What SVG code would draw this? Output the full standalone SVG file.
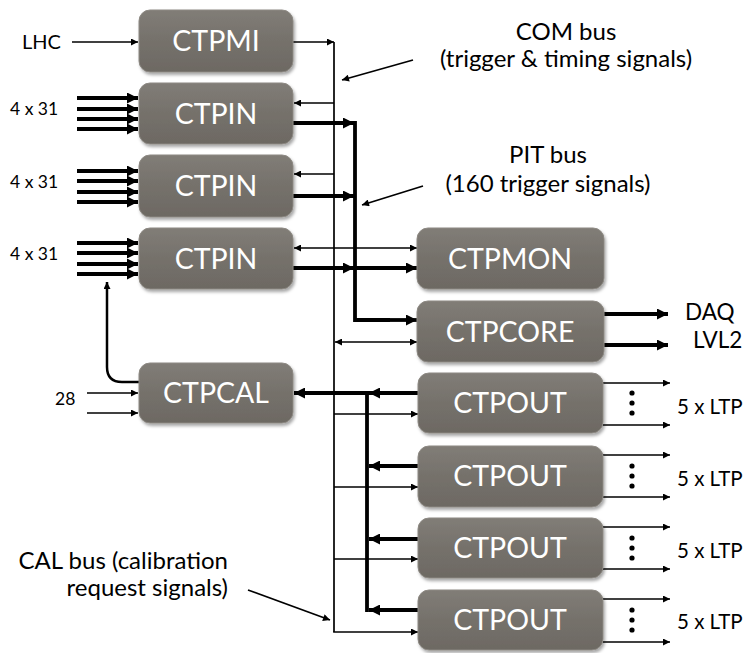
<svg xmlns="http://www.w3.org/2000/svg" width="749" height="653" viewBox="0 0 749 653">
<defs>
<linearGradient id="g" x1="0" y1="0" x2="0" y2="1">
<stop offset="0" stop-color="#817d77"/>
<stop offset="0.5" stop-color="#75716b"/>
<stop offset="1" stop-color="#6d6963"/>
</linearGradient>
<filter id="sh" x="-10%" y="-10%" width="125%" height="135%">
<feDropShadow dx="1.5" dy="2.5" stdDeviation="1.5" flood-color="#000" flood-opacity="0.35"/>
</filter>
<marker id="at" viewBox="0 0 10 10" refX="10" refY="5" markerWidth="10" markerHeight="7" markerUnits="userSpaceOnUse" orient="auto-start-reverse">
<path d="M0,0 L10,5 L0,10 z" fill="#000"/>
</marker>
<marker id="ak" viewBox="0 0 10 10" refX="10" refY="5" markerWidth="13" markerHeight="11" markerUnits="userSpaceOnUse" orient="auto-start-reverse">
<path d="M0,0 L10,5 L0,10 z" fill="#000"/>
</marker>
</defs>
<style>
.box{fill:url(#g);stroke:#8d8983;stroke-width:1;filter:url(#sh)}
.nl{font-family:Lato,"Liberation Sans",sans-serif;font-size:28.5px;fill:#fff;text-anchor:middle}
.lb{font-family:Lato,"Liberation Sans",sans-serif;font-size:24px;fill:#000}
.sm{font-family:Lato,"Liberation Sans",sans-serif;font-size:17.5px;fill:#000}
.t{fill:none;stroke:#000;stroke-width:1.7}
.k{fill:none;stroke:#000;stroke-width:3.8}
.ta{marker-end:url(#at)}
.ka{marker-end:url(#ak)}
.tb{marker-start:url(#at);marker-end:url(#at)}
</style>

<g id="connectors">
<line class="t ta" x1="72" y1="42" x2="138" y2="42"/>
<line class="t ta" x1="293" y1="42" x2="334" y2="42"/>
<line class="t" x1="334" y1="42" x2="334" y2="632"/>
<polyline class="k" points="355,121 355,320 390,320"/>
<line class="k ka" x1="388" y1="320" x2="417" y2="320"/>
<line class="k" x1="367" y1="393" x2="367" y2="612"/>

<line class="k ka" x1="77" y1="98" x2="138" y2="98"/>
<line class="k ka" x1="77" y1="109" x2="138" y2="109"/>
<line class="k ka" x1="77" y1="119" x2="138" y2="119"/>
<line class="k ka" x1="77" y1="129" x2="138" y2="129"/>
<line class="t ta" x1="334" y1="103" x2="294" y2="103"/>
<line class="k ka" x1="293" y1="123" x2="354" y2="123"/>

<line class="k ka" x1="77" y1="171" x2="138" y2="171"/>
<line class="k ka" x1="77" y1="181" x2="138" y2="181"/>
<line class="k ka" x1="77" y1="192" x2="138" y2="192"/>
<line class="k ka" x1="77" y1="202" x2="138" y2="202"/>
<line class="t ta" x1="334" y1="174" x2="294" y2="174"/>
<line class="k ka" x1="293" y1="196" x2="354" y2="196"/>

<line class="k ka" x1="77" y1="243" x2="138" y2="243"/>
<line class="k ka" x1="77" y1="253" x2="138" y2="253"/>
<line class="k ka" x1="77" y1="264" x2="138" y2="264"/>
<line class="k ka" x1="77" y1="274" x2="138" y2="274"/>
<line class="t tb" x1="294" y1="248" x2="417" y2="248"/>
<line class="k ka" x1="293" y1="268" x2="354" y2="268"/>
<line class="k ka" x1="355" y1="268" x2="417" y2="268"/>

<line class="t tb" x1="335" y1="342" x2="417" y2="342"/>
<line class="k ka" x1="604" y1="314" x2="668" y2="314"/>
<line class="k ka" x1="604" y1="345" x2="668" y2="345"/>

<path class="t ta" style="stroke-width:2.5" d="M139,382 L122,382 Q107,382 107,367 L107,282"/>
<line class="t ta" x1="87" y1="393" x2="138" y2="393"/>
<line class="t ta" x1="87" y1="413" x2="138" y2="413"/>

<line class="k ka" x1="380" y1="393" x2="294" y2="393"/>
<line class="k ka" x1="418" y1="393" x2="369" y2="393"/>
<line class="k ka" x1="418" y1="466" x2="369" y2="466"/>
<line class="k ka" x1="418" y1="539" x2="369" y2="539"/>
<line class="k ka" x1="418" y1="610" x2="369" y2="610"/>

<line class="t ta" x1="334" y1="414" x2="418" y2="414"/>
<line class="t ta" x1="334" y1="487" x2="418" y2="487"/>
<line class="t ta" x1="334" y1="559" x2="418" y2="559"/>
<line class="t ta" x1="333.15" y1="632" x2="418" y2="632"/>

<line class="t ta" x1="603" y1="383" x2="670" y2="383"/>
<line class="t ta" x1="603" y1="425" x2="670" y2="425"/>
<line class="t ta" x1="603" y1="455" x2="670" y2="455"/>
<line class="t ta" x1="603" y1="497" x2="670" y2="497"/>
<line class="t ta" x1="603" y1="527" x2="670" y2="527"/>
<line class="t ta" x1="603" y1="569" x2="670" y2="569"/>
<line class="t ta" x1="603" y1="599" x2="670" y2="599"/>
<line class="t ta" x1="603" y1="642" x2="670" y2="642"/>

<line class="t ta" x1="413" y1="60" x2="342" y2="80"/>
<line class="t ta" x1="423" y1="186" x2="362" y2="205"/>
<line class="t ta" x1="248" y1="590" x2="330" y2="620"/>
</g>

<g id="dots" fill="#000">
<circle cx="632" cy="393" r="2.6"/><circle cx="632" cy="403" r="2.6"/><circle cx="632" cy="413" r="2.6"/>
<circle cx="632" cy="466" r="2.6"/><circle cx="632" cy="476" r="2.6"/><circle cx="632" cy="486" r="2.6"/>
<circle cx="632" cy="538" r="2.6"/><circle cx="632" cy="548" r="2.6"/><circle cx="632" cy="558" r="2.6"/>
<circle cx="632" cy="610" r="2.6"/><circle cx="632" cy="620" r="2.6"/><circle cx="632" cy="630" r="2.6"/>
</g>

<g id="CTPMI"><rect class="box" x="139" y="10" width="154" height="62" rx="11"/><text class="nl" x="216" y="51">CTPMI</text></g>
<g id="CTPIN1"><rect class="box" x="139" y="83" width="154" height="61" rx="11"/><text class="nl" x="216" y="124">CTPIN</text></g>
<g id="CTPIN2"><rect class="box" x="139" y="155" width="154" height="62" rx="11"/><text class="nl" x="216" y="196">CTPIN</text></g>
<g id="CTPIN3"><rect class="box" x="139" y="228" width="154" height="61" rx="11"/><text class="nl" x="216" y="269">CTPIN</text></g>
<g id="CTPCAL"><rect class="box" x="139" y="363" width="154" height="60" rx="11"/><text class="nl" x="216" y="403">CTPCAL</text></g>
<g id="CTPMON"><rect class="box" x="417" y="228" width="187" height="61" rx="11"/><text class="nl" x="510" y="269">CTPMON</text></g>
<g id="CTPCORE"><rect class="box" x="417" y="301" width="187" height="61" rx="11"/><text class="nl" x="510" y="342">CTPCORE</text></g>
<g id="CTPOUT1"><rect class="box" x="418" y="373" width="185" height="60" rx="11"/><text class="nl" x="510" y="413">CTPOUT</text></g>
<g id="CTPOUT2"><rect class="box" x="418" y="446" width="185" height="61" rx="11"/><text class="nl" x="510" y="486">CTPOUT</text></g>
<g id="CTPOUT3"><rect class="box" x="418" y="518" width="185" height="60" rx="11"/><text class="nl" x="510" y="558">CTPOUT</text></g>
<g id="CTPOUT4"><rect class="box" x="418" y="590" width="185" height="60" rx="11"/><text class="nl" x="510" y="630">CTPOUT</text></g>

<g id="labels">
<text class="lb" x="22" y="49" style="font-size:20px">LHC</text>
<text class="sm" x="10" y="115">4 x 31</text>
<text class="sm" x="10" y="188">4 x 31</text>
<text class="sm" x="10" y="260">4 x 31</text>
<text class="sm" x="55" y="405">28</text>
<text class="lb" x="566" y="40" text-anchor="middle">COM bus</text>
<text class="lb" x="566" y="67" text-anchor="middle">(trigger &amp; timing signals)</text>
<text class="lb" x="548" y="163" text-anchor="middle">PIT bus</text>
<text class="lb" x="548" y="192" text-anchor="middle">(160 trigger signals)</text>
<text class="lb" x="685" y="320" style="font-size:22.5px">DAQ</text>
<text class="lb" x="693" y="348" style="font-size:22.5px">LVL2</text>
<text class="lb" x="228" y="569" text-anchor="end">CAL bus (calibration</text>
<text class="lb" x="228" y="596" text-anchor="end">request signals)</text>
<text class="lb" x="677" y="414" style="font-size:20.5px">5 x LTP</text>
<text class="lb" x="677" y="486" style="font-size:20.5px">5 x LTP</text>
<text class="lb" x="677" y="558" style="font-size:20.5px">5 x LTP</text>
<text class="lb" x="677" y="629" style="font-size:20.5px">5 x LTP</text>
</g>
</svg>
